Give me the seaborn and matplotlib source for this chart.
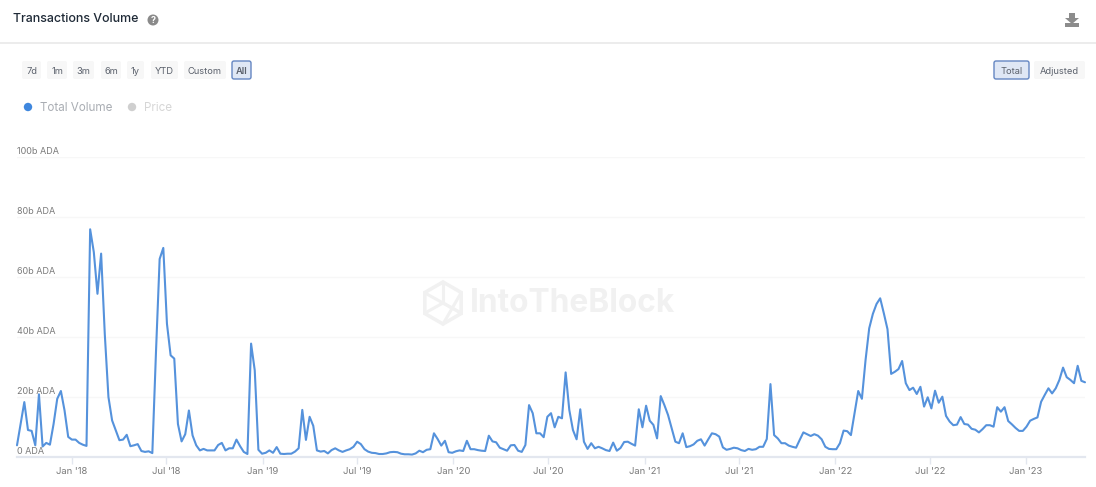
import matplotlib
matplotlib.use("Agg")

import matplotlib.dates as mdates
import matplotlib.pyplot as plt
from matplotlib.patches import Circle, FancyBboxPatch, Polygon, RegularPolygon
import pandas as pd
import seaborn as sns

# Weekly total volume, in billions of ADA
volume = [
    3.9, 11, 18.3, 9, 8.7, 3.9, 20.9, 3.5, 4.7, 4.1, 11, 19.4, 22, 15.5, 6.7, 5.8, 5.8, 4.7, 4.1, 3.7,
    75.9, 68.3, 54.4, 67.8, 41, 20, 12.2, 8.9, 5.6, 5.8, 7.4, 3.6, 3.9, 4.3, 2, 1.7, 1.9, 1.3, 35, 66,
    69.7, 44.4, 33.9, 32.8, 11, 5.2, 7.6, 15.5, 7.2, 3.9, 2.2, 2.7, 2.2, 2.2, 2.2, 4, 4.7, 2.2, 2.9, 2.9,
    5.8, 3.6, 1.7, 1, 37.8, 28.9, 2.4, 1.1, 1.4, 2.2, 1.4, 3.3, 1.1, 1, 1.1, 1.1, 1.8, 2.9, 15.7, 5.7,
    13.4, 10.4, 2.2, 1.8, 2, 1.2, 2.3, 2.9, 2.2, 1.7, 2.2, 2.6, 3.4, 5.1, 4.3, 2.6, 1.8, 1.4, 1.3, 1,
    1, 1.2, 1.6, 1.7, 1.6, 1.1, 0.9, 0.9, 0.8, 1.2, 2.1, 1.6, 2.4, 2.6, 7.9, 6, 3.8, 5.4, 1.6, 1.4,
    1.9, 2.2, 2, 5.4, 2.6, 2.6, 2.3, 2.1, 2, 7.1, 5.2, 4.9, 3.1, 2.6, 2.1, 3.9, 4, 2.1, 1.7, 4,
    17.3, 14.6, 7.9, 7.9, 6.6, 13.4, 14.6, 9.9, 13.4, 12.9, 28.2, 15.7, 9, 5.9, 15.9, 5.1, 2.7, 4.6, 2.9, 3.4,
    2.9, 2.3, 2, 4.8, 2.1, 3, 5, 5.1, 4.4, 3.8, 15.9, 9.9, 17.1, 12.1, 10.7, 6.2, 20.3, 17.3, 14, 9.6,
    5.1, 4.6, 7.9, 3.3, 3.6, 4.2, 5.4, 5.9, 3.8, 5.9, 7.9, 7.6, 6.8, 3.2, 2.4, 2.7, 3.1, 2.9, 2.3, 2,
    2.7, 2.4, 2.6, 3.4, 3.4, 6, 24.3, 7.3, 6.2, 4.6, 4.6, 3.8, 3.4, 3.1, 5.7, 8.2, 7.6, 7, 7.6, 7.1,
    5.9, 3.4, 2.7, 2.6, 2.6, 4.6, 8.8, 8.6, 7.3, 14.6, 22, 19.4, 32.3, 42.9, 47.7, 51, 52.9, 47.9, 42.6, 27.7,
    28.4, 29.3, 32, 24.6, 22.3, 23.1, 21, 23.4, 16.8, 19.9, 16.2, 22.1, 18.1, 20.1, 13.7, 11.8, 10.6, 10.8, 13.3, 11,
    10.8, 9.4, 9.1, 8.2, 9.3, 10.6, 10.6, 10.1, 16.6, 15.1, 16.6, 12, 10.9, 9.7, 8.7, 8.7, 10.1, 12.1, 12.7, 13.2,
    18.4, 20.7, 22.9, 21.2, 22.9, 25.7, 29.8, 26.6, 25.7, 24.6, 30.4, 25.4, 24.9,
]
start_date = "2017-09-18"

y_ticks = [0, 20, 40, 60, 80, 100]
y_labels = ["0 ADA", "20b ADA", "40b ADA", "60b ADA", "80b ADA", "100b ADA"]
x_ticks = ["2018-01-01", "2018-07-01", "2019-01-01", "2019-07-01", "2020-01-01", "2020-07-01",
           "2021-01-01", "2021-07-01", "2022-01-01", "2022-07-01", "2023-01-01"]
x_labels = ["Jan '18", "Jul '18", "Jan '19", "Jul '19", "Jan '20", "Jul '20",
            "Jan '21", "Jul '21", "Jan '22", "Jul '22", "Jan '23"]

range_buttons = [("7d", 21, 42), ("1m", 46, 68), ("3m", 72, 95), ("6m", 100, 122),
                 ("1y", 126, 145), ("YTD", 150, 179), ("Custom", 183, 227), ("All", 231, 252)]
mode_buttons = [("Total", 993, 1030), ("Adjusted", 1033, 1086)]
selected = {"All", "Total"}

W, H = 1096, 487

sns.set_theme(style="white")
plt.rcParams["font.family"] = ["Inter", "DejaVu Sans"]

df = pd.DataFrame({
    "date": pd.date_range(start_date, periods=len(volume), freq="7D"),
    "volume": volume,
})

fig = plt.figure(figsize=(W / 100, H / 100), dpi=100, facecolor="white")

# Page chrome lives on a full-figure axes in pixel units
ui = fig.add_axes([0, 0, 1, 1], zorder=0)
ui.set_xlim(0, W)
ui.set_ylim(H, 0)
ui.axis("off")

ui.text(13, 19, "Transactions Volume", fontsize=8.95, fontweight="medium", color="#1f2a37", va="center")
ui.add_patch(Circle((153, 20), 5.5, color="#8a8a8a", lw=0))
ui.text(153, 20.3, "?", fontsize=6.5, fontweight="bold", color="white", ha="center", va="center")
ui.plot([0, W], [43, 43], color="#ececec", lw=1.4)

# Download icon
ui.add_patch(Polygon([(1069, 13), (1075, 13), (1075, 18), (1079, 18), (1072, 24), (1065, 18), (1069, 18)],
                     color="#8c8c8c", lw=0))
ui.add_patch(Polygon([(1065, 23), (1079, 23), (1079, 27), (1065, 27)], color="#8c8c8c", lw=0))


def draw_button(label, x0, x1):
    on = label in selected
    ui.add_patch(FancyBboxPatch((x0 + 1, 61), x1 - x0 - 2, 18, boxstyle="round,pad=0,rounding_size=2",
                                facecolor="#dfe7f5" if on else "#f7f7f7",
                                edgecolor="#6486c2" if on else "none", lw=1.0))
    ui.text((x0 + x1) / 2, 71, label, fontsize=6.7, color="#5b616c",
            fontweight="semibold" if label == "All" else "normal", ha="center", va="center")


for label, x0, x1 in range_buttons + mode_buttons:
    draw_button(label, x0, x1)

# Legend
ui.add_patch(Circle((28, 107), 4.2, color="#3f87de", lw=0))
ui.text(40, 107.8, "Total Volume", fontsize=8.4, color="#a9adb3", va="center")
ui.add_patch(Circle((132, 107), 4.2, color="#cfcfcf", lw=0))
ui.text(144, 107.8, "Price", fontsize=8.4, color="#d6d6d6", va="center")

# Watermark
wm = "#f1f1f1"
ui.add_patch(RegularPolygon((443, 303), 6, radius=21, fill=False, edgecolor=wm, lw=2.6))
for a, b in [((443, 282), (443, 303)), ((425, 313), (443, 303)), ((461, 313), (443, 303)),
             ((425, 293), (461, 313)), ((461, 293), (443, 324))]:
    ui.plot([a[0], b[0]], [a[1], b[1]], color=wm, lw=2.2)
ui.text(470, 304, "IntoTheBlock", fontsize=22.8, fontweight="bold", color=wm, va="center")

# Chart
ax = fig.add_axes([17 / W, (H - 457) / H, 1068 / W, 300 / H], zorder=1)
ax.patch.set_alpha(0)
sns.lineplot(data=df, x="date", y="volume", ax=ax, color="#5592dc", linewidth=1.5, clip_on=False)

ax.set_xlim(df["date"].iloc[0], df["date"].iloc[-1])
ax.set_ylim(0, 100)
ax.set_xlabel("")
ax.set_ylabel("")
sns.despine(ax=ax, left=True, top=True, right=True)
ax.spines["bottom"].set_color("#e3e7ef")
ax.spines["bottom"].set_linewidth(1.6)

ax.set_yticks(y_ticks)
ax.set_yticklabels([])
ax.tick_params(axis="y", length=0)
ax.grid(axis="y", color="#f7f7f7", lw=1)
ax.set_axisbelow(True)
for v, label in zip(y_ticks, y_labels):
    ax.annotate(label, (0, v), xycoords=ax.get_yaxis_transform(), xytext=(0, 3.7),
                textcoords="offset points", fontsize=6.5, color="#7a7a7a", va="center", ha="left")

ax.set_xticks(mdates.date2num(pd.to_datetime(x_ticks)))
ax.set_xticklabels(x_labels, fontsize=6.8, color="#7a7a7a")
ax.tick_params(axis="x", length=5, width=1, color="#e3e7ef", pad=2.5, bottom=True)

fig.savefig("out.png", dpi=100)
